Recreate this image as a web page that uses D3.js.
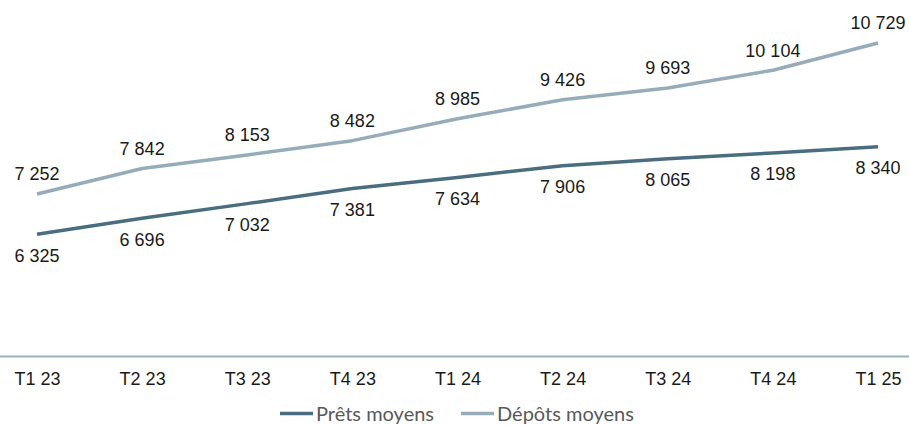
<!DOCTYPE html>
<html>
<head>
<meta charset="utf-8">
<script src="https://cdn.jsdelivr.net/npm/d3@7/dist/d3.min.js"></script>
<style>
  html, body { margin: 0; padding: 0; background: #ffffff; }
  svg { display: block; }
</style>
</head>
<body>
<svg id="chart" width="909" height="425"></svg>
<script>
// Quarterly average loans and deposits
const quarters = ["T1 23", "T2 23", "T3 23", "T4 23", "T1 24", "T2 24", "T3 24", "T4 24", "T1 25"];
const pretsMoyens = [6325, 6696, 7032, 7381, 7634, 7906, 8065, 8198, 8340];
const depotsMoyens = [7252, 7842, 8153, 8482, 8985, 9426, 9693, 10104, 10729];
const seriesNames = ["Prêts moyens", "Dépôts moyens"];
const seriesColors = ["#4b6d80", "#96acb8"];

const svg = d3.select("#chart");
const W = 909;

const x = d3.scalePoint().domain(quarters).range([37, 878]);
const y = d3.scaleLinear().domain([3500, 11000]).range([357, 31.3]);

const fmt = v => d3.format(",")(v).replace(/,/g, " ");

// category axis: baseline plus labels
svg.append("line")
  .attr("x1", 0).attr("x2", W)
  .attr("y1", 356.5).attr("y2", 356.5)
  .attr("stroke", "#a2b2bc").attr("stroke-width", 2);

const axis = d3.axisBottom(x).tickSize(0).tickPadding(0);
const gAxis = svg.append("g").attr("transform", "translate(0,372)").call(axis);
gAxis.select(".domain").remove();
gAxis.selectAll("text")
  .attr("dy", "0.71em")
  .attr("font-family", "Arial, 'Liberation Sans', sans-serif")
  .attr("font-size", 18)
  .attr("fill", "#1a1a1a");

const series = [
  { name: seriesNames[0], values: pretsMoyens, color: seriesColors[0], above: false },
  { name: seriesNames[1], values: depotsMoyens, color: seriesColors[1], above: true }
];

const line = d3.line()
  .x((d, i) => x(quarters[i]))
  .y(d => y(d));

series.forEach(s => {
  svg.append("path")
    .datum(s.values)
    .attr("d", line)
    .attr("fill", "none")
    .attr("stroke", s.color)
    .attr("stroke-width", 3.5)
    .attr("stroke-linejoin", "round");

  svg.append("g").selectAll("text")
    .data(s.values)
    .join("text")
    .attr("x", (d, i) => x(quarters[i]))
    .attr("y", d => y(d) + (s.above ? -20 : 21))
    .attr("dy", "0.35em")
    .attr("text-anchor", "middle")
    .attr("font-family", "Arial, 'Liberation Sans', sans-serif")
    .attr("font-size", 18)
    .attr("fill", "#1a1a1a")
    .text(d => fmt(d));
});

// legend
const legend = svg.append("g").attr("transform", "translate(0,413.5)");
const legendItems = [
  { x: 280, s: series[0] },
  { x: 461, s: series[1] }
];
legendItems.forEach(it => {
  legend.append("line")
    .attr("x1", it.x).attr("x2", it.x + 33)
    .attr("y1", 0).attr("y2", 0)
    .attr("stroke", it.s.color).attr("stroke-width", 3.5);
  legend.append("text")
    .attr("x", it.x + 36)
    .attr("y", 0)
    .attr("dy", "0.35em")
    .attr("font-family", "Lato, 'Open Sans', sans-serif")
    .attr("font-size", 20)
    .attr("fill", "#595959")
    .text(it.s.name);
});
</script>
</body>
</html>
